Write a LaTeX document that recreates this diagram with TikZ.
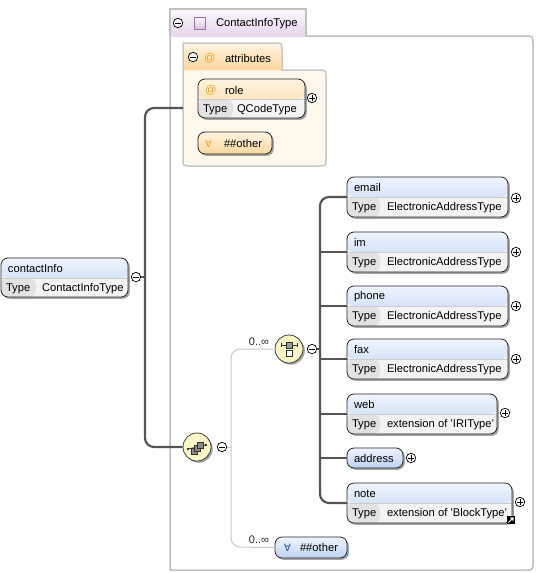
\documentclass[tikz,border=0pt]{standalone}
\usepackage{fontspec}
\setmainfont{Liberation Sans}
\newfontfamily\dejavu{DejaVu Sans}
\usetikzlibrary{shadows,calc}
\definecolor{boxline}{HTML}{C0C0C0}
\definecolor{attrfill}{HTML}{FFF8EC}
\definecolor{attrline}{HTML}{C8C8C8}
\definecolor{tabtop}{HTML}{FBF7FC}
\definecolor{tabbot}{HTML}{E6D6EC}
\definecolor{ortop}{HTML}{FFF5E2}
\definecolor{orbot}{HTML}{FBD69C}
\definecolor{bltop}{HTML}{F0F5FE}
\definecolor{blbot}{HTML}{BCD1F0}
\definecolor{cellG}{HTML}{E2E2E2}
\definecolor{cellL}{HTML}{F4F4F4}
\definecolor{compfill}{HTML}{FBF6C8}
\definecolor{dkline}{HTML}{555555}
\definecolor{ltline}{HTML}{C8C8C8}
\definecolor{atorange}{HTML}{F0A020}
\definecolor{allblue}{HTML}{2050A0}
\definecolor{purp}{HTML}{A070B0}
\begin{document}
\begin{tikzpicture}[x=1pt,y=-1pt,
  font=\fontsize{11.2}{13}\selectfont,
  lbl/.style={anchor=west,inner sep=0pt,outer sep=0pt,text=black},
  elemT/.style n args={3}{draw=black!85,line width=0.8pt,rounded corners=7pt,
    anchor=north west,minimum height=40pt,inner sep=0pt,outer sep=0pt,fill=cellL,
    drop shadow={shadow xshift=1.8pt,shadow yshift=-1.8pt,fill=black!50,opacity=0.7},
    path picture={
      \fill[top color=#1,bottom color=#2] (path picture bounding box.north west) rectangle ([yshift=-20pt]path picture bounding box.north east);
      \fill[cellG] ([yshift=-20pt]path picture bounding box.north west) rectangle ([xshift=#3]path picture bounding box.south west);
      \draw[black!20,line width=0.6pt] ([yshift=-20pt]path picture bounding box.north west) -- ([yshift=-20pt]path picture bounding box.north east);
    }},
  elemS/.style 2 args={draw=black!85,line width=0.8pt,rounded corners=7pt,
    anchor=north west,minimum height=20pt,inner sep=0pt,outer sep=0pt,
    top color=#1,bottom color=#2,
    drop shadow={shadow xshift=1.8pt,shadow yshift=-1.8pt,fill=black!50,opacity=0.7}},
  minusc/.style={circle,draw=black,line width=0.7pt,fill=white,minimum size=9.5pt,inner sep=0pt,
    path picture={\draw[line width=0.8pt] ([xshift=-2.6pt]path picture bounding box.center) -- ([xshift=2.6pt]path picture bounding box.center);}},
  plusc/.style={circle,draw=black,line width=0.7pt,fill=white,minimum size=9.5pt,inner sep=0pt,
    path picture={\draw[line width=0.8pt] ([xshift=-2.6pt]path picture bounding box.center) -- ([xshift=2.6pt]path picture bounding box.center);
      \draw[line width=0.8pt] ([yshift=-2.6pt]path picture bounding box.center) -- ([yshift=2.6pt]path picture bounding box.center);}},
  comp/.style={circle,draw=black!75,line width=0.8pt,fill=compfill,minimum size=28pt,inner sep=0pt,
    drop shadow={shadow xshift=1.8pt,shadow yshift=-1.8pt,fill=black!50,opacity=0.7}},
  dk/.style={draw=dkline,line width=2.2pt},
  lt/.style={draw=ltline,line width=1pt},
  mult/.style={inner sep=0pt,font=\fontsize{11}{13}\selectfont,text=black!85}
]
\useasboundingbox (0,0) rectangle (536,573);
\fill[white] (0,0) rectangle (536,573);

% ---- main complex type box
\draw[boxline,line width=1.5pt,fill=white] (306,36) -- (525,36) .. controls (533,36) .. (533,44) -- (533,562) .. controls (533,570) .. (525,570) -- (170,570) -- (170,36);
\draw[boxline,line width=1.5pt,top color=tabtop,bottom color=tabbot] (170,36) -- (170,9) -- (306,9) -- (306,36);
\node[minusc] (tabm) at (178,23) {};
\draw[purp,line width=0.8pt,top color=white,bottom color=tabbot!80!purp] (194,17) rectangle (205,29);
\node[lbl] (ctname) at (216,23.5) {ContactInfoType};

% ---- attributes group
\fill[attrfill] (183,70) -- (318,70) .. controls (326,70) .. (326,78) -- (326,158) .. controls (326,166) .. (318,166) -- (190,166) .. controls (183,166) .. (183,159) -- cycle;
\draw[attrline,line width=1.5pt] (282,70) -- (318,70) .. controls (326,70) .. (326,78) -- (326,158) .. controls (326,166) .. (318,166) -- (190,166) .. controls (183,166) .. (183,159) -- (183,70);
\draw[attrline,line width=1.5pt,top color=ortop,bottom color=orbot] (183,70) -- (183,43) -- (275,43) .. controls (282,43) .. (282,50) -- (282,70);
\node[minusc] (attm) at (193,57) {};
\node[lbl,text=atorange] at (204,58) {@};
\node[lbl] (attname) at (225,58) {attributes};
\coordinate (attrIn) at (183,108);

% role
\node[elemT={ortop}{orbot}{35pt},minimum width=107pt,minimum height=39pt] (role) at (198,79) {};
\node[lbl,text=atorange] at (205,90) {@};
\node[lbl] at (225,90) {role};
\node[lbl] at (203,109.5) {Type};
\node[lbl] at (237,109.5) {QCodeType};
\node[plusc] (rolep) at (312,98) {};

% any attribute
\node[elemS={ortop}{orbot},minimum width=74pt,minimum height=22pt] (anyatt) at (198,132) {};
\node[lbl,text=atorange,font=\dejavu\fontsize{10}{12}\selectfont] at (205,143.5) {∀};
\node[lbl] at (224,143.5) {\#\#other};

% ---- contactInfo element
\node[elemT={bltop}{blbot}{35pt},minimum width=127pt,minimum height=39pt] (ci) at (1,258) {};
\node[lbl] at (8,268.5) {contactInfo};
\node[lbl] at (6,288.5) {Type};
\node[lbl] at (42,288.5) {ContactInfoType};
\node[minusc] (cim) at (136,277) {};

% ---- compositors
\node[comp] (seq) at (197,447) {};
\begin{scope}[shift={(197,447)}]
  \draw[black!80,line width=0.7pt] (-9,2) -- (9,-2);
  \fill[black] (-9,2) circle (1.2pt) (9,-2) circle (1.2pt);
  \draw[black!80,fill=black!45,line width=0.5pt] (-6,1) rectangle (0,7);
  \draw[black!80,fill=black!45,line width=0.5pt] (-3,-2) rectangle (3,4);
  \draw[black!80,fill=black!45,line width=0.5pt] (0,-5) rectangle (6,1);
\end{scope}
\node[minusc] (seqm) at (222,447) {};

\node[comp] (choice) at (289,349) {};
\begin{scope}[shift={(289,349)}]
  \draw[black!80,line width=0.7pt] (-8,-4) -- (8,-4);
  \draw[black!80,line width=0.7pt] (-8,-6) -- (-8,-2) (8,-6) -- (8,-2);
  \draw[black!80,fill=black!40,line width=0.5pt] (-3,-7) rectangle (3,-1);
  \draw[black!80,fill=white,line width=0.6pt] (-3,1.5) rectangle (3,7.5);
\end{scope}
\node[minusc] (choicem) at (312,349) {};
\node[mult] (mult1) at (259,342) {0..∞};

% ---- choice children
\node[elemT={bltop}{blbot}{33pt},minimum width=161pt] (email) at (347,177) {};
\node[lbl] at (354,187.5) {email};
\node[lbl] at (352,207.5) {Type};
\node[lbl] at (387,207.5) {ElectronicAddressType};
\node[plusc] (emailp) at (516,198) {};

\node[elemT={bltop}{blbot}{33pt},minimum width=161pt] (im) at (347,232) {};
\node[lbl] at (354,242.5) {im};
\node[lbl] at (352,262.5) {Type};
\node[lbl] at (387,262.5) {ElectronicAddressType};
\node[plusc] (imp) at (516,252) {};

\node[elemT={bltop}{blbot}{33pt},minimum width=161pt] (phone) at (347,286) {};
\node[lbl] at (354,296.5) {phone};
\node[lbl] at (352,316.5) {Type};
\node[lbl] at (387,316.5) {ElectronicAddressType};
\node[plusc] (phonep) at (516,306) {};

\node[elemT={bltop}{blbot}{33pt},minimum width=161pt] (fax) at (347,339) {};
\node[lbl] at (354,349.5) {fax};
\node[lbl] at (352,369.5) {Type};
\node[lbl] at (387,369.5) {ElectronicAddressType};
\node[plusc] (faxp) at (516,359) {};

\node[elemT={bltop}{blbot}{33pt},minimum width=150pt] (web) at (347,394) {};
\node[lbl] at (354,404.5) {web};
\node[lbl] at (352,424.5) {Type};
\node[lbl] at (387,424.5) {extension of 'IRIType'};
\node[plusc] (webp) at (505,413) {};

\node[elemS={bltop}{blbot},minimum width=56pt] (address) at (347,448) {};
\node[lbl] at (354,458.5) {address};
\node[plusc] (addressp) at (411,458) {};

\node[elemT={bltop}{blbot}{33pt},minimum width=165pt] (note) at (347,483) {};
\node[lbl] at (354,493.5) {note};
\node[lbl] at (352,513.5) {Type};
\node[lbl] at (387,513.5) {extension of 'BlockType'};
\node[plusc] (notep) at (520,502) {};
\fill[black] (507,516) rectangle (515,524);
\draw[white,line width=0.9pt] (508.5,522.5) -- (513,518);
\fill[white] (513.6,517.4) -- (509.8,517.6) -- (513.4,521.2) -- cycle;

% ---- any element
\node[elemS={bltop}{blbot},minimum width=72pt,minimum height=21pt] (anyel) at (275,537) {};
\node[lbl,text=allblue,font=\dejavu\fontsize{10}{12}\selectfont] at (284,547.5) {∀};
\node[lbl] at (300,547.5) {\#\#other};
\node[mult] (mult2) at (259,540) {0..∞};

% ---- connectors
\coordinate (cij) at (145,277);
\draw[dk] (cim.east) -- (cij);
\draw[dk,rounded corners=9pt] (attrIn) -- (145,108) -- (145,447) -- (seq.west);

\coordinate (seqj) at (231,447);
\draw[lt] (seqm.east) -- (seqj);
\draw[lt,rounded corners=9pt] (choice.west) -- (231,349) -- (231,547) -- (anyel.west);

\coordinate (chj) at (320,349);
\draw[dk] (choicem.east) -- (chj);
\draw[dk,rounded corners=9pt] (347,197) -- (320,197) -- (320,503) -- (347,503);
\draw[dk] (320,252) -- (347,252);
\draw[dk] (320,306) -- (347,306);
\draw[dk] (320,359) -- (347,359);
\draw[dk] (320,414) -- (347,414);
\draw[dk] (320,458) -- (address.west);
\end{tikzpicture}
\end{document}
